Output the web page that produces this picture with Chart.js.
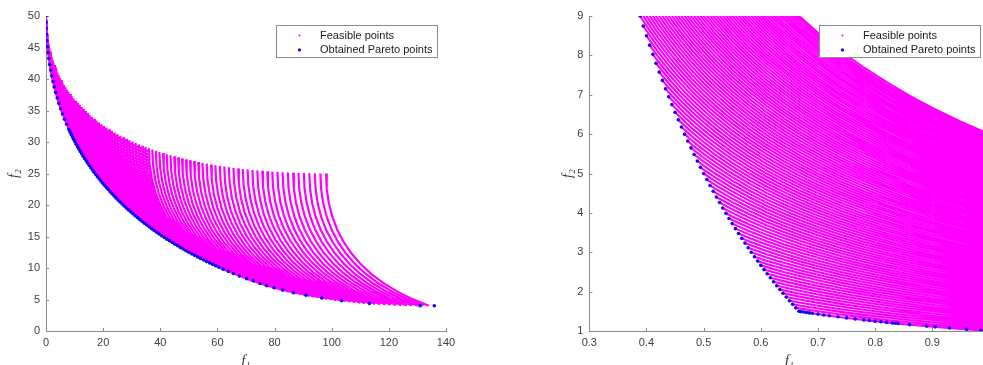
<!DOCTYPE html>
<html>
<head>
<meta charset="utf-8">
<script src="https://cdn.jsdelivr.net/npm/chart.js@4.4.1/dist/chart.umd.min.js"></script>
<style>
  html, body { margin: 0; padding: 0; background: #fff; overflow: hidden; }
  body { width: 983px; height: 365px; position: relative; }
  canvas { position: absolute; top: 0; }
  #left { left: 0; }
  #right { left: 490px; }
</style>
</head>
<body>
<canvas id="left" width="490" height="375"></canvas>
<canvas id="right" width="530" height="375"></canvas>
<script>
// ---- left panel: feasible curves, each one the same profile hung from its top point
const curveTopF1 = [
  0.01, 0.04, 0.09, 0.16, 0.25, 0.36, 0.49, 0.64, 0.81, 1,
  1.21, 1.44, 1.69, 1.96, 2.25, 2.56, 2.89, 3.24, 3.61, 4,
  4.41, 4.84, 5.29, 5.76, 6.25, 6.76, 7.29, 7.84, 8.41, 9,
  9.61, 10.24, 10.89, 11.56, 12.25, 12.96, 13.69, 14.44, 15.21, 16,
  16.81, 17.64, 18.49, 19.36, 20.25, 21.16, 22.09, 23.04, 24.01, 25,
  26.01, 27.04, 28.09, 29.16, 30.25, 31.36, 32.49, 33.64, 34.81, 36,
  37.21, 38.44, 39.69, 40.96, 42.25, 43.56, 44.89, 46.24, 47.61, 49,
  50.41, 51.84, 53.29, 54.76, 56.25, 57.76, 59.29, 60.84, 62.41, 64,
  65.61, 67.24, 68.89, 70.56, 72.25, 73.96, 75.69, 77.44, 79.21, 81,
  82.81, 84.64, 86.49, 88.36, 90.25, 92.16, 94.09, 96.04, 98.01
];
const curveTopF2 = [
  49.50, 49.01, 48.52, 48.04, 47.56, 47.09, 46.62, 46.16, 45.70, 45.25,
  44.80, 44.36, 43.92, 43.49, 43.06, 42.64, 42.22, 41.81, 41.40, 41.00,
  40.60, 40.21, 39.82, 39.44, 39.06, 38.69, 38.32, 37.96, 37.60, 37.25,
  36.90, 36.56, 36.22, 35.89, 35.56, 35.24, 34.92, 34.61, 34.30, 34.00,
  33.70, 33.41, 33.12, 32.84, 32.56, 32.29, 32.02, 31.76, 31.50, 31.25,
  31.00, 30.76, 30.52, 30.29, 30.06, 29.84, 29.62, 29.41, 29.20, 29.00,
  28.80, 28.61, 28.42, 28.24, 28.06, 27.89, 27.72, 27.56, 27.40, 27.25,
  27.10, 26.96, 26.82, 26.69, 26.56, 26.44, 26.32, 26.21, 26.10, 26.00,
  25.90, 25.81, 25.72, 25.64, 25.56, 25.49, 25.42, 25.36, 25.30, 25.25,
  25.20, 25.16, 25.12, 25.09, 25.06, 25.04, 25.02, 25.01, 25.00
];
// profile of one curve, measured from its top point (shift right / drop down)
const curveShapeF1 = [0, 0.25, 1, 2.25, 4, 6.25, 9, 12.25, 16, 20.25, 25, 30.25, 36];
const curveShapeF2 = [0, 2.44, 4.75, 6.94, 9, 10.94, 12.75, 14.44, 16, 17.44, 18.75, 19.94, 21];

const paretoLeftF1 = [
  0, 0.02, 0.08, 0.18, 0.32, 0.5, 0.72, 0.98, 1.28, 1.62,
  2, 2.42, 2.88, 3.38, 3.92, 4.5, 5.12, 5.78, 6.48, 7.22,
  8, 8.41, 8.82, 9.25, 9.68, 10.13, 10.58, 11.05, 11.52, 12.01,
  12.5, 13.01, 13.52, 14.05, 14.58, 15.13, 15.68, 16.25, 16.82, 17.41,
  18, 18.61, 19.22, 19.85, 20.48, 21.13, 21.78, 22.45, 23.12, 23.81,
  24.5, 25.21, 25.92, 26.65, 27.38, 28.13, 28.88, 29.65, 30.42, 31.21,
  32, 32.81, 33.62, 34.45, 35.28, 36.13, 36.98, 37.85, 38.72, 39.61,
  40.5, 41.41, 42.32, 43.25, 44.18, 45.13, 46.08, 47.05, 48.02, 49.01,
  50, 51.01, 52.02, 53.05, 54.08, 55.13, 56.18, 57.25, 58.32, 59.41,
  60.5, 62, 63.8, 65.6, 67.7, 70.2, 72.6, 74.9, 77.2, 79.8,
  82.8, 86.6, 91, 96.5, 103.5, 113.2, 130.9, 135.9
];
const paretoLeftF2 = [
  50, 49.01, 48.02, 47.05, 46.08, 45.13, 44.18, 43.25, 42.32, 41.41,
  40.5, 39.61, 38.72, 37.85, 36.98, 36.13, 35.28, 34.45, 33.62, 32.81,
  32, 31.6, 31.21, 30.81, 30.42, 30.03, 29.65, 29.26, 28.88, 28.5,
  28.13, 27.75, 27.38, 27.01, 26.65, 26.28, 25.92, 25.56, 25.21, 24.85,
  24.5, 24.15, 23.81, 23.46, 23.12, 22.78, 22.45, 22.11, 21.78, 21.45,
  21.13, 20.8, 20.48, 20.16, 19.85, 19.53, 19.22, 18.91, 18.61, 18.3,
  18, 17.7, 17.41, 17.11, 16.82, 16.53, 16.25, 15.96, 15.68, 15.4,
  15.13, 14.85, 14.58, 14.31, 14.05, 13.78, 13.52, 13.26, 13.01, 12.75,
  12.5, 12.25, 12.01, 11.76, 11.52, 11.28, 11.05, 10.81, 10.58, 10.35,
  10.13, 9.82, 9.47, 9.13, 8.74, 8.31, 7.97, 7.54, 7.21, 6.86,
  6.49, 6.08, 5.67, 5.23, 4.82, 4.37, 4.02, 4.0
];

// ---- right panel: stripes, each one the unit curve scaled to its level (f2 at f1 = 1)
const stripeLevel = [
  1.00, 1.05, 1.10, 1.15, 1.20, 1.25, 1.30, 1.35, 1.40, 1.45,
  1.50, 1.55, 1.60, 1.65, 1.70, 1.75, 1.80, 1.85, 1.90, 1.95,
  2.00, 2.05, 2.10, 2.15, 2.20, 2.25, 2.30, 2.35, 2.40, 2.45,
  2.50, 2.55, 2.60, 2.65, 2.70, 2.75, 2.80, 2.85, 2.90, 2.95,
  3.00, 3.05, 3.10, 3.15, 3.20, 3.25, 3.30, 3.35, 3.40, 3.45,
  3.50, 3.55, 3.60, 3.65, 3.70, 3.75, 3.80, 3.85, 3.90, 3.95,
  4.00, 4.05, 4.10, 4.15, 4.20, 4.25, 4.30, 4.35, 4.40, 4.45,
  4.50, 4.55, 4.60, 4.65, 4.70, 4.75, 4.80, 4.85, 4.90, 4.95,
  5.00, 5.05, 5.10, 5.15, 5.20, 5.25, 5.30, 5.35, 5.40, 5.45,
  5.50, 5.55, 5.60, 5.65, 5.70, 5.75, 5.80, 5.85, 5.90, 5.95,
  6.00
];
const stripeAnchorF1 = [0.38, 0.39, 0.40, 0.42, 0.44, 0.46, 0.48, 0.50, 0.52, 0.55, 0.58,
  0.61, 0.64, 0.67, 0.70, 0.74, 0.78, 0.82, 0.86, 0.90, 0.95, 1.00];
const stripeUnitF2 = [2.632, 2.564, 2.5, 2.381, 2.273, 2.174, 2.083, 2.0, 1.923, 1.818, 1.724,
  1.639, 1.563, 1.493, 1.429, 1.351, 1.282, 1.22, 1.163, 1.111, 1.053, 1.0];

// steep part of the front, one point where each lower stripe leaves it
const paretoUpperF1 = [
  0.6667, 0.6611, 0.6556, 0.65, 0.6444, 0.6389, 0.6333, 0.6278, 0.6222, 0.6167,
  0.6111, 0.6056, 0.6, 0.5944, 0.5889, 0.5833, 0.5778, 0.5722, 0.5667, 0.5611,
  0.5556, 0.55, 0.5444, 0.5389, 0.5333, 0.5278, 0.5222, 0.5167, 0.5111, 0.5056,
  0.5, 0.4944, 0.4889, 0.4833, 0.4778, 0.4722, 0.4667, 0.4611, 0.4556, 0.45,
  0.4444, 0.4389, 0.4333, 0.4278, 0.4222, 0.4167, 0.4111, 0.4056, 0.4, 0.3944,
  0.3889
];
const paretoUpperF2 = [
  1.5, 1.588, 1.678, 1.769, 1.862, 1.957, 2.053, 2.15, 2.25, 2.351,
  2.455, 2.56, 2.667, 2.776, 2.887, 3.0, 3.115, 3.233, 3.353, 3.475,
  3.6, 3.727, 3.857, 3.99, 4.125, 4.263, 4.404, 4.548, 4.696, 4.846,
  5.0, 5.157, 5.318, 5.483, 5.651, 5.824, 6.0, 6.181, 6.366, 6.556,
  6.75, 6.949, 7.154, 7.364, 7.579, 7.8, 8.027, 8.26, 8.5, 8.746,
  9.0
];
// flat part of the front
const paretoLowerF1 = [0.67, 0.675, 0.68, 0.685, 0.69, 0.7, 0.71, 0.72, 0.735, 0.75, 0.765, 0.78,
  0.79, 0.8, 0.81, 0.82, 0.83, 0.835, 0.84, 0.86, 0.89, 0.905, 0.93, 0.96, 0.985];
const paretoLowerF2 = [1.493, 1.481, 1.471, 1.46, 1.449, 1.429, 1.408, 1.389, 1.361, 1.333, 1.307, 1.282,
  1.266, 1.25, 1.235, 1.22, 1.205, 1.198, 1.19, 1.163, 1.124, 1.105, 1.075, 1.042, 1.015];

const AXIS_COLOR = '#8a8a8a';
const TICK_COLOR = '#404040';
const MAGENTA = '#ff00ff';
const BLUE = '#0a0af0';

const toPoints = (xs, ys) => xs.map((x, i) => ({ x, y: ys[i] }));

// curves are separated with a NaN point so one dataset holds them all
const leftFeasible = [];
curveTopF1.forEach((x0, i) => {
  curveShapeF1.forEach((dx, j) => {
    leftFeasible.push({ x: x0 + dx, y: curveTopF2[i] - curveShapeF2[j] });
  });
  leftFeasible.push({ x: NaN, y: NaN });
});

const rightFeasible = [];
stripeLevel.forEach((level, i) => {
  let startF1 = 0;
  if (i < paretoUpperF1.length) {
    startF1 = paretoUpperF1[i];
    rightFeasible.push({ x: startF1, y: paretoUpperF2[i] });
  }
  stripeAnchorF1.forEach((x, j) => {
    if (x > startF1 + 0.004) rightFeasible.push({ x, y: level * stripeUnitF2[j] });
  });
  rightFeasible.push({ x: NaN, y: NaN });
});

// MATLAB style: ticks point into the plot
const inwardTicks = {
  id: 'inwardTicks',
  beforeDatasetsDraw(chart) {
    const { ctx, chartArea, scales } = chart;
    ctx.save();
    ctx.strokeStyle = AXIS_COLOR;
    ctx.lineWidth = 1;
    ctx.beginPath();
    scales.x.ticks.forEach(t => {
      const px = Math.round(scales.x.getPixelForValue(t.value)) + 0.5;
      ctx.moveTo(px, chartArea.bottom);
      ctx.lineTo(px, chartArea.bottom - 3);
    });
    scales.y.ticks.forEach(t => {
      const py = Math.round(scales.y.getPixelForValue(t.value)) + 0.5;
      ctx.moveTo(chartArea.left, py);
      ctx.lineTo(chartArea.left + 3, py);
    });
    ctx.stroke();
    ctx.restore();
  }
};

// boxed legend in the top right corner of the axes
const boxedLegend = {
  id: 'boxedLegend',
  afterDraw(chart) {
    const { ctx, chartArea } = chart;
    const w = 161, h = 32;
    const x = Math.round(chartArea.right - 9.5 - w) + 0.5;
    const y = Math.round(chartArea.top + 8.5) + 0.5;
    ctx.save();
    ctx.fillStyle = '#fff';
    ctx.fillRect(x, y, w, h);
    ctx.strokeStyle = '#8c8c8c';
    ctx.lineWidth = 1;
    ctx.strokeRect(x, y, w, h);
    ctx.font = '11px "Liberation Sans", Arial, sans-serif';
    ctx.textBaseline = 'middle';
    chart.data.datasets.forEach((ds, i) => {
      const cy = y + 10 + i * 14.4;
      ctx.fillStyle = ds.borderColor;
      ctx.beginPath();
      ctx.arc(x + 23, cy, i === 0 ? 1 : 1.6, 0, Math.PI * 2);
      ctx.fill();
      ctx.fillStyle = '#1a1a1a';
      ctx.fillText(ds.label, x + 43.5, cy);
    });
    ctx.restore();
  }
};

function axis(min, max, step, title, fitSize, isX, format) {
  return {
    type: 'linear',
    min, max,
    grid: { display: false, drawTicks: false },
    border: { display: true, color: AXIS_COLOR, width: 1 },
    ticks: {
      stepSize: step,
      padding: isX ? 5 : 6,
      color: TICK_COLOR,
      font: { family: '"Liberation Sans", Arial, sans-serif', size: 11 },
      callback: format || (v => v)
    },
    title: {
      display: true,
      text: title,
      color: '#303030',
      font: { family: '"Liberation Serif", "DejaVu Serif", serif', size: 14, style: 'italic' },
      padding: isX ? { top: 0, bottom: 5.6 } : { top: 5.6, bottom: 0 }
    },
    afterFit(scale) {
      if (isX) scale.height = fitSize; else scale.width = fitSize;
    }
  };
}

function makeChart(id, feasible, pareto, lineWidth, xAxis, yAxis, padding) {
  return new Chart(document.getElementById(id), {
    type: 'scatter',
    data: {
      datasets: [
        {
          label: 'Feasible points',
          data: feasible,
          showLine: true,
          spanGaps: false,
          borderColor: MAGENTA,
          borderWidth: lineWidth,
          pointRadius: 0,
          tension: 0,
          order: 1
        },
        {
          label: 'Obtained Pareto points',
          data: pareto,
          showLine: false,
          borderColor: BLUE,
          backgroundColor: BLUE,
          pointRadius: 1.8,
          pointBorderWidth: 0,
          order: 0
        }
      ]
    },
    options: {
      responsive: false,
      animation: false,
      devicePixelRatio: 1,
      events: [],
      layout: { padding },
      plugins: { legend: { display: false }, tooltip: { enabled: false } },
      scales: { x: xAxis, y: yAxis }
    },
    plugins: [inwardTicks, boxedLegend]
  });
}

makeChart('left', leftFeasible, toPoints(paretoLeftF1, paretoLeftF2), 2.2,
  axis(0, 140, 20, 'f\u2081', 44, true),
  axis(0, 50, 5, 'f\u2082', 46, false),
  { left: 0, right: 44, top: 16, bottom: 0 });

makeChart('right', rightFeasible,
  toPoints(paretoUpperF1, paretoUpperF2).concat(toPoints(paretoLowerF1, paretoLowerF2)), 2.1,
  axis(0.3, 1.0, 0.1, 'f\u2081', 44, true, v => String(Math.round(v * 10) / 10)),
  axis(1, 9, 1, 'f\u2082', 35.3, false),
  { left: 64, right: 30.5, top: 16, bottom: 0 });
</script>
</body>
</html>
